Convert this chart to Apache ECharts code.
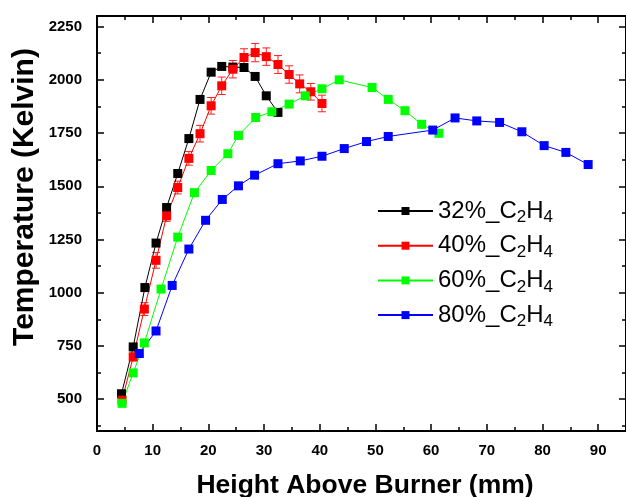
<!DOCTYPE html>
<html><head><meta charset="utf-8">
<script src="https://cdn.jsdelivr.net/npm/echarts@6/dist/echarts.min.js"></script>
<style>html,body{margin:0;padding:0;background:#fff}#c{width:626px;height:497px}</style>
</head><body><div id="c"></div>
<script>
// ---- tick values ----
const xTicks = [0, 10, 20, 30, 40, 50, 60, 70, 80, 90];
const xMinorTicks = [5, 15, 25, 35, 45, 55, 65, 75, 85, 95];
const yTicks = [500, 750, 1000, 1250, 1500, 1750, 2000, 2250];
const yMinorTicks = [375, 625, 875, 1125, 1375, 1625, 1875, 2125];

// ---- titles / series names ----
const xTitle = 'Height Above Burner (mm)';
const yTitle = 'Temperature (Kelvin)';
const names = ['32%_C2H4', '40%_C2H4', '60%_C2H4', '80%_C2H4'];

// ---- 32% C2H4 ----
const x32 = [4.4, 6.5, 8.6, 10.6, 12.5, 14.5, 16.5, 18.5, 20.5, 22.4, 24.4, 26.4, 28.4, 30.4, 32.5];
const t32 = [525, 745, 1024, 1233, 1400, 1560, 1724, 1908, 2036, 2063, 2060, 2058, 2016, 1925, 1847];

// ---- 40% C2H4 (with error) ----
const x40 = [4.5, 6.5, 8.5, 10.6, 12.5, 14.5, 16.5, 18.5, 20.5, 22.4, 24.4, 26.4, 28.4, 30.4, 32.5, 34.5, 36.4, 38.4, 40.4];
const t40 = [495, 698, 923, 1152, 1361, 1494, 1631, 1747, 1878, 1972, 2050, 2105, 2128, 2109, 2072, 2025, 1981, 1944, 1889];
const e40 = [19, 18, 30, 37, 26, 30, 32, 39, 39, 41, 41, 41, 43, 41, 42, 41, 42, 39, 39];

// ---- 60% C2H4 ----
const x60 = [4.5, 6.5, 8.5, 11.5, 14.5, 17.5, 20.5, 23.5, 25.4, 28.5, 31.4, 34.5, 37.4, 40.4, 43.5, 49.4, 52.3, 55.3, 58.3, 61.4];
const t60 = [480, 623, 764, 1017, 1261, 1470, 1574, 1653, 1739, 1823, 1850, 1886, 1925, 1958, 2000, 1964, 1908, 1855, 1791, 1749];

// ---- 80% C2H4 ----
const x80 = [7.6, 10.6, 13.5, 16.5, 19.5, 22.5, 25.4, 28.3, 32.5, 36.5, 40.4, 44.4, 48.4, 52.3, 60.3, 64.3, 68.2, 72.3, 76.3, 80.3, 84.2, 88.2];
const t80 = [714, 820, 1034, 1205, 1340, 1438, 1502, 1552, 1606, 1619, 1641, 1677, 1710, 1734, 1764, 1821, 1807, 1800, 1756, 1691, 1659, 1602];

const colors = ['#000000', '#ff0000', '#00ff00', '#0000ff'];

const zip = (a, b) => a.map((v, i) => [v, b[i]]);

const XMIN = 0, XMAX = 95, YMIN = 350, YMAX = 2300;
const tickFont = {fontFamily: 'Liberation Sans', fontWeight: 'bold', fontSize: 15, color: '#000'};

function mkAxis(kind, pos, vals, len, withLine, withLabel) {
  return {
    type: 'value', position: pos, min: kind === 'x' ? XMIN : YMIN, max: kind === 'x' ? XMAX : YMAX,
    splitLine: {show: false},
    axisLine: {show: withLine, onZero: false, lineStyle: {color: '#000', width: 2}},
    axisTick: {show: true, inside: true, length: len, customValues: vals, lineStyle: {color: '#000', width: 1.5}},
    axisLabel: withLabel ? Object.assign({
      show: true, customValues: vals, margin: kind === 'x' ? 12 : 15,
      formatter: v => String(v)
    }, tickFont) : {show: false}
  };
}

const xAxes = [
  mkAxis('x', 'bottom', xTicks, 7, true, true),
  mkAxis('x', 'bottom', xMinorTicks, 4, false, false),
  mkAxis('x', 'top', xTicks, 7, true, false),
  mkAxis('x', 'top', xMinorTicks, 4, false, false)
];
const yAxes = [
  mkAxis('y', 'left', yTicks, 7, true, true),
  mkAxis('y', 'left', yMinorTicks, 4, false, false),
  mkAxis('y', 'right', yTicks, 7, true, false),
  mkAxis('y', 'right', yMinorTicks, 4, false, false)
];

function lineSeries(i, xs, ys) {
  return {
    name: names[i], type: 'line', data: zip(xs, ys),
    symbol: 'rect', symbolSize: 9, showSymbol: true,
    lineStyle: {color: colors[i], width: 1},
    itemStyle: {color: colors[i]},
    xAxisIndex: 0, yAxisIndex: 0, animation: false
  };
}

const errSeries = {
  name: 'err40', type: 'custom', xAxisIndex: 0, yAxisIndex: 0,
  data: x40.map((v, i) => [v, t40[i], e40[i]]),
  encode: {x: 0, y: 1},
  renderItem: function (params, api) {
    const x = api.value(0), y = api.value(1), e = api.value(2);
    const lo = api.coord([x, y - e]);
    const hi = api.coord([x, y + e]);
    const hw = 4;
    const st = {stroke: '#ff2020', lineWidth: 1};
    return {
      type: 'group',
      children: [
        {type: 'line', shape: {x1: lo[0], y1: lo[1], x2: hi[0], y2: hi[1]}, style: st},
        {type: 'line', shape: {x1: lo[0] - hw, y1: lo[1], x2: lo[0] + hw, y2: lo[1]}, style: st},
        {type: 'line', shape: {x1: hi[0] - hw, y1: hi[1], x2: hi[0] + hw, y2: hi[1]}, style: st}
      ]
    };
  },
  animation: false
};

const option = {
  animation: false,
  backgroundColor: '#fff',
  grid: {left: 97, top: 16, right: -6, bottom: 66, containLabel: false},
  xAxis: xAxes,
  yAxis: yAxes,
  legend: {
    data: names, orient: 'vertical', left: 377, top: 199, padding: 0,
    itemWidth: 55, itemHeight: 10, itemGap: 7.7,
    formatter: function (n) {
      const m = n.match(/^(.*_C)(\d)(H)(\d)$/);
      return '{n|' + m[1] + '}{s|' + m[2] + '}{n|' + m[3] + '}{s|' + m[4] + '}';
    },
    textStyle: {
      color: '#000',
      rich: {
        n: {fontFamily: 'Liberation Sans', fontSize: 24, lineHeight: 30, color: '#000'},
        s: {fontFamily: 'Liberation Sans', fontSize: 17, lineHeight: 17, verticalAlign: 'bottom', color: '#000'}
      }
    }
  },
  graphic: [
    {type: 'text', x: 365, y: 486, style: {
      text: xTitle, fontFamily: 'Liberation Sans', fontWeight: 'bold', fontSize: 26.5, fill: '#000',
      align: 'center', verticalAlign: 'middle'}},
    {type: 'text', x: 25, y: 197, rotation: Math.PI / 2, style: {
      text: yTitle, fontFamily: 'Liberation Sans', fontWeight: 'bold', fontSize: 30, fill: '#000',
      align: 'center', verticalAlign: 'middle'}}
  ],
  series: [
    lineSeries(0, x32, t32),
    errSeries,
    lineSeries(1, x40, t40),
    lineSeries(2, x60, t60),
    lineSeries(3, x80, t80)
  ]
};

const chart = echarts.init(document.getElementById('c'), null, {renderer: 'canvas'});
chart.setOption(option);
</script>
</body></html>
